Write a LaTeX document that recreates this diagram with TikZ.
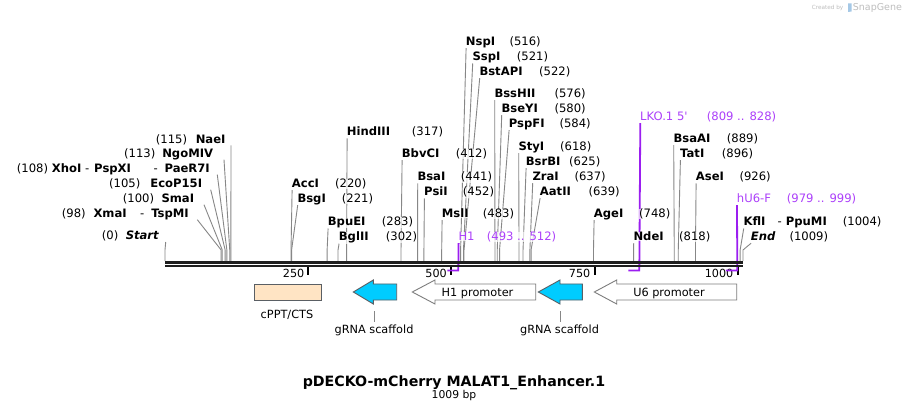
\documentclass[tikz,border=0pt]{standalone}
\usepackage{fontspec}
\setmainfont{DejaVu Sans}
\usetikzlibrary{calc}
\pgfdeclarelayer{bg}
\pgfdeclarelayer{prim}
\pgfsetlayers{bg,prim,main}
\definecolor{leadgray}{RGB}{135,135,135}
\definecolor{backbone}{RGB}{30,30,30}
\definecolor{primtext}{RGB}{172,64,250}
\definecolor{primline}{RGB}{155,30,240}
\definecolor{scaffcyan}{RGB}{0,204,255}
\definecolor{peach}{RGB}{255,228,196}
\definecolor{featedge}{RGB}{90,95,100}
\definecolor{promedge}{RGB}{125,125,125}
\definecolor{sgray}{RGB}{190,190,190}
\definecolor{sblue}{RGB}{165,200,230}
\tikzset{
  lbl/.style={inner sep=0pt, fill=white, fill opacity=0.7, text opacity=1, font=\fontsize{11.6}{13}\selectfont},
  cutname/.style={lbl, font=\fontsize{11.6}{13}\selectfont\bfseries},
  cutnum/.style={lbl},
  primlbl/.style={lbl, text=primtext},
  leader/.style={draw=leadgray, line width=0.9pt},
  primstroke/.style={draw=primline, line width=1.8pt},
  tickmark/.style={draw=black, line width=2pt},
  ticklbl/.style={inner sep=0pt, font=\fontsize{11.2}{13}\selectfont},
  featlbl/.style={inner sep=0pt, font=\fontsize{11.3}{13}\selectfont},
  scaffold/.style={fill=scaffcyan, draw=featedge, line width=0.9pt},
  promoter/.style={fill=white, draw=promedge, line width=0.9pt},
  cpptbox/.style={fill=peach, draw=featedge, line width=0.9pt},
}
% right-type cut label: id, name x, baseline, name, number x, bp
\newcommand{\RCut}[6]{%
  \node[cutname, anchor=base west] (#1) at (#2,#3) {#4};
  \node[cutnum, anchor=base west] (#1n) at (#5,#3) {(#6)};
  \coordinate (#1s) at ({165+0.57284*#6},261);
  \coordinate (#1b) at ({165+0.57284*#6},250);
  \begin{pgfonlayer}{bg}
    \draw[leader] ($(#1.base west)+(0.4,2.5)$) -- (#1b) -- (#1s);
  \end{pgfonlayer}
}
% left-type cut label: id, number x, name, name end x, baseline, line offset, bp
\newcommand{\LCut}[7]{%
  \node[cutname, anchor=base east] (#1) at (#4,#5) {#3};
  \node[cutnum, anchor=base west] (#1n) at (#2,#5) {(#7)};
  \coordinate (#1s) at ({165+0.57284*#7},261);
  \coordinate (#1b) at ({165+0.57284*#7},250);
  \begin{pgfonlayer}{bg}
    \draw[leader] ($(#1.base east)+(#6,2)$) -- (#1b) -- (#1s);
  \end{pgfonlayer}
}
% primer: id, label x, baseline, name, range x, range text, start bp, end bp
\newcommand{\Primer}[8]{%
  \node[primlbl, anchor=base west] (#1) at (#2,#3) {#4};
  \node[primlbl, anchor=base west] (#1n) at (#5,#3) {#6};
  \coordinate (#1e) at ({165+0.57284*#8},270.5);
  \coordinate (#1s) at ({165+0.57284*#7},270.5);
  \begin{pgfonlayer}{prim}
    \draw[primstroke] ($(#1.base west)+(0.3,2.5)$) -- (#1e) -- (#1s);
  \end{pgfonlayer}
}
% left-pointing feature arrow: tip x, head base x, end x, style
\newcommand{\LArrow}[4]{%
  \draw[#4] (#1,292) -- (#2,280) -- (#2,284) -- (#3,284) -- (#3,300) -- (#2,300) -- (#2,304) -- cycle;
}
\begin{document}
\begin{tikzpicture}[x=1pt,y=-1pt]
\useasboundingbox (0,0) rectangle (909,411);
\begin{pgfonlayer}{bg}
  \fill[white] (0,0) rectangle (909,411);
  \foreach \v/\lx in {250/304.5, 500/447, 750/590.5, 1000/733.5} {
    \draw[tickmark] ({165+0.57284*\v},267.5) -- ({165+0.57284*\v},275);
    \node[ticklbl, anchor=base east] (tk\v) at (\lx,277.3) {\v};
  }
\end{pgfonlayer}

% backbone
\draw[backbone, line width=2.6pt] (165,262.5) -- (743,262.5);
\draw[backbone, line width=2.3pt] (165,266.2) -- (743,266.2);

% left cut labels
\LCut{nae}{155.7}{NaeI}{225.7}{143.3}{5.3}{115}
\LCut{ngo}{124}{NgoMIV}{213.3}{157.7}{10.7}{113}
\LCut{xho}{16.7}{PaeR7I}{210}{172.7}{7.3}{108}
\node[cutname, anchor=base west] (xhoa) at (51.7,172.7) {XhoI};
\node[cutnum, anchor=base west] (xhob) at (85,172.7) {-};
\node[cutname, anchor=base west] (xhoc) at (94,172.7) {PspXI};
\node[cutnum, anchor=base west] (xhod) at (153.3,172.7) {-};
\LCut{eco}{109}{EcoP15I}{202.3}{187.7}{8.4}{105}
\LCut{sma}{122.7}{SmaI}{194.3}{202.7}{9.7}{100}
\LCut{xma}{61.7}{TspMI}{189}{217.7}{8.3}{98}
\node[cutname, anchor=base west] (xmaa) at (93.3,217.7) {XmaI};
\node[cutnum, anchor=base west] (xmab) at (140,217.7) {-};
\LCut{startc}{101.7}{\textit{Start}}{159.3}{240}{6.4}{0}

% right cut labels
\RCut{hind}{346.7}{136}{HindIII}{411.7}{317}
\RCut{bbvc}{401.7}{157.7}{BbvCI}{455.7}{412}
\RCut{acc}{291.7}{187.7}{AccI}{335}{220}
\RCut{bsg}{297.3}{202.7}{BsgI}{341.7}{221}
\RCut{bsa}{417.3}{181}{BsaI}{460.7}{441}
\RCut{psi}{424}{196}{PsiI}{462.7}{452}
\RCut{bpue}{327.7}{226}{BpuEI}{381.7}{283}
\RCut{bgl}{338.7}{241}{BglII}{385.7}{302}
\RCut{msl}{441.7}{217.7}{MslI}{482.7}{483}
\RCut{nsp}{465.7}{45.7}{NspI}{509.3}{516}
\RCut{ssp}{472.3}{61}{SspI}{516.7}{521}
\RCut{bstapi}{479.3}{75.7}{BstAPI}{539}{522}
\RCut{bsshii}{494.3}{97.7}{BssHII}{554.3}{576}
\RCut{bseyi}{501.3}{112.7}{BseYI}{554.3}{580}
\RCut{pspfi}{508.7}{127.7}{PspFI}{559.3}{584}
\RCut{styi}{518.3}{150.7}{StyI}{560}{618}
\RCut{bsrbi}{525.7}{165.7}{BsrBI}{569}{625}
\RCut{zrai}{532.3}{180.7}{ZraI}{574.3}{637}
\RCut{aatii}{539.7}{195.7}{AatII}{588.3}{639}
\RCut{agei}{593.7}{217.7}{AgeI}{639}{748}
\RCut{ndei}{633.3}{240.7}{NdeI}{679}{818}
\RCut{bsaai}{673.3}{142.7}{BsaAI}{726.7}{889}
\RCut{tati}{680}{157.7}{TatI}{721.7}{896}
\RCut{asei}{695.7}{181}{AseI}{739.3}{926}
\RCut{kfli}{743.3}{226}{KflI}{842.7}{1004}
\node[cutnum, anchor=base west] (kflia) at (777.3,226) {-};
\node[cutname, anchor=base west] (kflib) at (785.7,226) {PpuMI};
\RCut{endc}{750.7}{240.7}{\textit{End}}{789.3}{1009}

% primers
\Primer{lko}{640}{120.7}{LKO.1 5\textquotesingle}{706.7}{(809 .. 828)}{809}{828}
\Primer{hone}{458.3}{240.7}{H1}{486.7}{(493 .. 512)}{493}{512}
\Primer{hu6}{736.7}{202.7}{hU6-F}{786.7}{(979 .. 999)}{979}{999}

% features
\draw[cpptbox] (254.3,284) rectangle (321.7,300.5);
\node[featlbl, anchor=base] (cpptl) at (287,318) {cPPT/CTS};

\LArrow{353.3}{373.3}{396.7}{scaffold}
\coordinate (g1a) at (374,311);
\node[featlbl, anchor=base] (g1l) at (374,333.3) {gRNA scaffold};
\draw[leader] (g1a) -- ($(g1l.north)+(0,-3)$);

\LArrow{412.3}{435}{535.7}{promoter}
\node[featlbl, anchor=base] (h1l) at (477.5,296) {H1 promoter};

\LArrow{538.3}{560}{582.3}{scaffold}
\coordinate (g2a) at (560.7,311);
\node[featlbl, anchor=base] (g2l) at (559.5,333.3) {gRNA scaffold};
\draw[leader] (g2a) -- ($(g2l.north)+(1.2,-3)$);

\LArrow{594.3}{616.7}{736.7}{promoter}
\node[featlbl, anchor=base] (u6l) at (669,296) {U6 promoter};

% title
\node[inner sep=0pt, font=\fontsize{14.2}{16}\selectfont\bfseries, anchor=base] (title) at (454,386) {pDECKO-mCherry MALAT1\_Enhancer.1};
\node[inner sep=0pt, font=\fontsize{10.8}{12}\selectfont, anchor=base] (bp) at (454,398.3) {1009 bp};

% created by
\node[inner sep=0pt, font=\fontsize{5.7}{7}\selectfont, text=sgray, anchor=base west] (cby) at (811.7,9.8) {Created by};
\fill[sblue] (848,3.5) -- (851.5,3.5) -- (851.5,11.5) -- (848,12) -- cycle;
\node[inner sep=0pt, font=\fontsize{9.5}{11}\selectfont, text=sgray, anchor=base west] (sg) at (852.7,10.8) {SnapGene};
\end{tikzpicture}
\end{document}
